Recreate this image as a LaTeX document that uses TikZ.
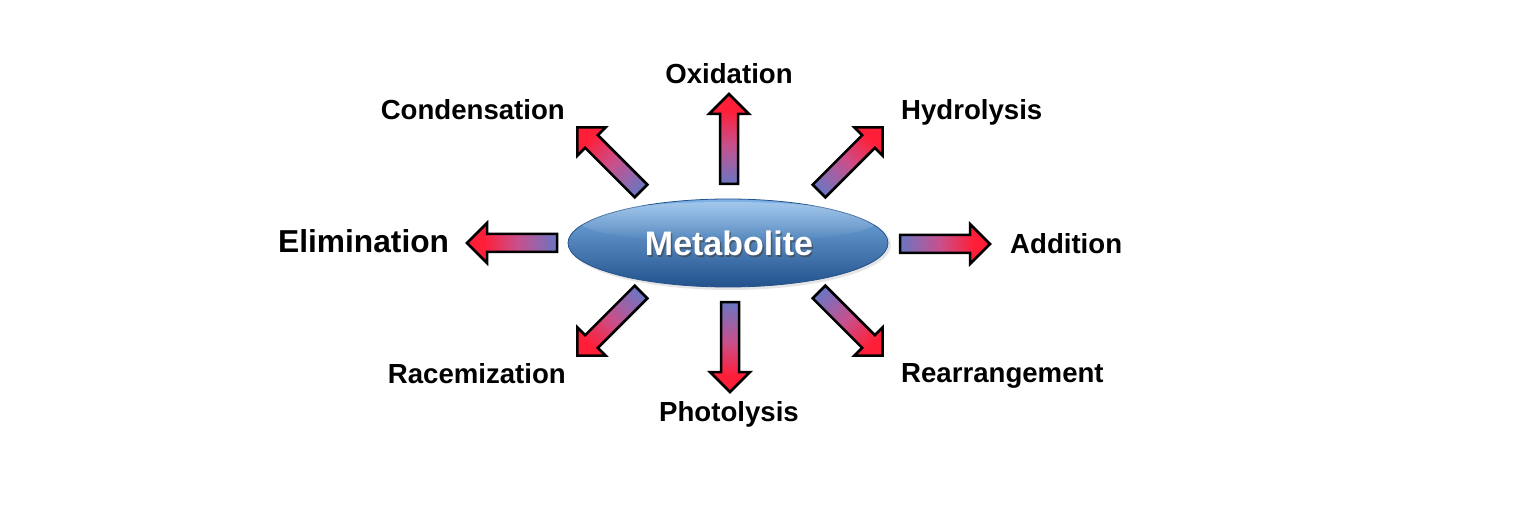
\documentclass[tikz,border=0pt]{standalone}
\usepackage{fontspec}
\setmainfont{Liberation Sans}
\usetikzlibrary{shapes.geometric,fadings}
\definecolor{arrblue}{RGB}{105,118,195}
\definecolor{arrmid}{RGB}{200,80,140}
\definecolor{arrred}{RGB}{255,30,55}
\definecolor{elltop}{RGB}{125,178,230}
\definecolor{ellmid}{RGB}{78,135,198}
\definecolor{ellbot}{RGB}{35,82,140}
\pgfdeclarehorizontalshading{arrshade}{100bp}{color(0bp)=(arrblue); color(25bp)=(arrblue); color(47bp)=(arrmid); color(66bp)=(arrred); color(75bp)=(arrred); color(100bp)=(arrred)}
\tikzset{
  lbl/.style={font=\bfseries\fontsize{27.6}{30}\selectfont, inner sep=0pt, text=black},
  blockarrow/.style={draw=black, line width=2.5pt, line join=miter, shading=arrshade},
}
\newcommand{\blockarr}[3]{%
  \begin{scope}[transform canvas={shift={(#1,#2)},rotate=#3}]
    \path[blockarrow] (0,-9) -- (70,-9) -- (70,-20) -- (90,0) -- (70,20) -- (70,9) -- (0,9) -- cycle;
  \end{scope}}
\begin{document}
\begin{tikzpicture}[x=1pt,y=-1pt]
  \useasboundingbox (0,0) rectangle (1516,505);
  \fill[white] (0,0) rectangle (1516,505);

  % arrows (tail centre, direction)
  \blockarr{729}{184}{90}
  \blockarr{730}{302}{270}
  \blockarr{900}{244}{0}
  \blockarr{557}{243}{180}
  \blockarr{819}{191}{45}
  \blockarr{641}{191}{135}
  \blockarr{641}{292}{225}
  \blockarr{819}{292}{315}

  % metabolite ellipse
  \node (shadow) [ellipse, minimum width=322pt, minimum height=90pt, inner sep=0pt, fill=black, opacity=0.10] at (730,245) {};
  \node (met) [ellipse, minimum width=320pt, minimum height=88pt, inner sep=0pt, top color=elltop, middle color=ellmid, bottom color=ellbot, draw=ellbot, line width=0.8pt] at (728,243) {};
  \node (hl) [ellipse, minimum width=296pt, minimum height=40pt, inner sep=0pt, fill=white, fill opacity=0.30, path fading=south] at (728,222) {};
  \node (mettxtsh) [anchor=base, inner sep=0pt, text=black!75, opacity=0.6, font=\bfseries\fontsize{34}{36}\selectfont] at (730.5,257.5) {Metabolite};
  \node (mettxt) [anchor=base, inner sep=0pt, text=white, font=\bfseries\fontsize{34}{36}\selectfont] at (729,255.5) {Metabolite};

  % labels
  \node (ox)  [lbl, anchor=base] at (729,84) {Oxidation};
  \node (con) [lbl, anchor=base east] at (565,120) {Condensation};
  \node (hyd) [lbl, anchor=base west] at (901,120) {Hydrolysis};
  \node (eli) [lbl, anchor=base west, font=\bfseries\fontsize{31.7}{34}\selectfont] at (278,253) {Elimination};
  \node (add) [lbl, anchor=base west] at (1010,254) {Addition};
  \node (rac) [lbl, anchor=base east] at (566,383) {Racemization};
  \node (pho) [lbl, anchor=base] at (729,421) {Photolysis};
  \node (rea) [lbl, anchor=base west] at (901,382) {Rearrangement};
\end{tikzpicture}
\end{document}
